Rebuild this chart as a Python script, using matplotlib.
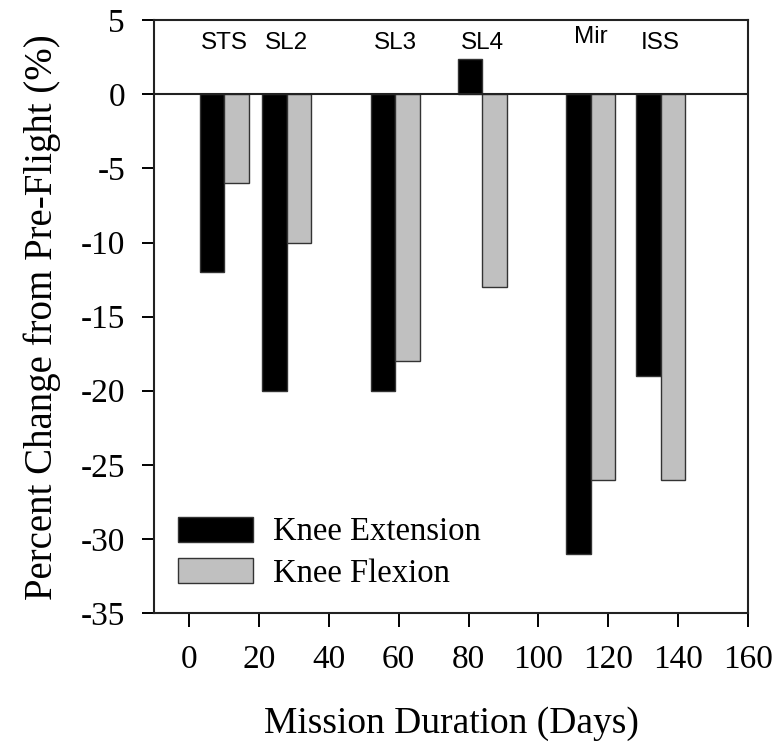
import matplotlib
matplotlib.use("Agg")
import matplotlib.pyplot as plt

missions = ['STS', 'SL2', 'SL3', 'SL4', 'Mir', 'ISS']
duration = [10, 28, 59, 84, 115, 135]
extension = [-12, -20, -20, 2.4, -31, -19]
flexion = [-6, -10, -18, -13, -26, -26]
label_y = [3.5, 3.5, 3.5, 3.5, 3.85, 3.5]

plt.rcParams['font.family'] = 'Liberation Serif'
plt.rcParams['axes.unicode_minus'] = False

fig = plt.figure(figsize=(7.75, 7.53), dpi=100)
ax = fig.add_axes([0.199, 0.186, 0.766, 0.787])

ax.bar(duration, extension, width=-7, align='edge', color='black',
       edgecolor='#333333', linewidth=1, label='Knee Extension')
ax.bar(duration, flexion, width=7, align='edge', color='#c0c0c0',
       edgecolor='#333333', linewidth=1, label='Knee Flexion')
ax.axhline(0, color='#222222', lw=1.5)

for m, d, ly in zip(missions, duration, label_y):
    ax.text(d, ly, m, ha='center', va='center', fontsize=17.5,
            family='Liberation Sans')

ax.set_xlim(-10, 160)
ax.set_ylim(-35, 5)
ax.set_xticks(range(0, 161, 20))
ax.set_yticks(range(-35, 6, 5))
ax.tick_params(direction='out', length=9, width=1.4, labelsize=24)
ax.tick_params(axis='y', pad=12)
ax.tick_params(axis='x', length=10, pad=13)
for s in ax.spines.values():
    s.set_linewidth(1.5)
    s.set_color('#222222')

ax.set_xlabel('Mission Duration (Days)', fontsize=27, labelpad=22)
ax.set_ylabel('Percent Change from Pre-Flight (%)', fontsize=28, labelpad=14)

ax.legend(loc='upper left', bbox_to_anchor=(0.013, 0.19), frameon=False,
          fontsize=23.5, handlelength=2.3, handleheight=0.8,
          handletextpad=0.6, labelspacing=0.32, borderpad=0)

fig.savefig('out.png', dpi=100)
